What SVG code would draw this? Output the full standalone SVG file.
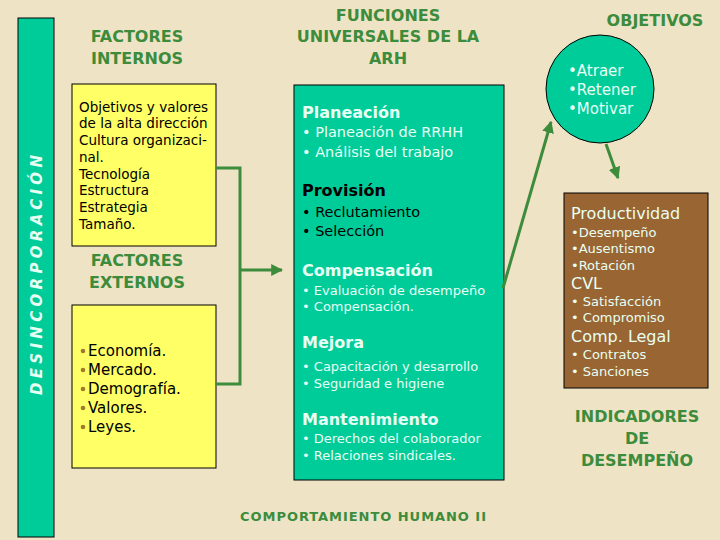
<svg xmlns="http://www.w3.org/2000/svg" width="720" height="540" viewBox="0 0 720 540">
<defs>
<marker id="ah" viewBox="0 0 10 10" refX="9" refY="5" markerWidth="4" markerHeight="4" orient="auto"><path d="M0,0L10,5L0,10z" fill="#3c8c3c"/></marker>
<style>
.h{font-family:"DejaVu Sans",sans-serif;font-weight:bold;font-size:16px;fill:#3c8c3c;text-anchor:middle}
.t{font-family:"DejaVu Sans",sans-serif;fill:#000}
.w{font-family:"DejaVu Sans",sans-serif;fill:#e8fff4}
.hb{font-weight:bold;font-size:16px}
.c{stroke:#3c8c3c;stroke-width:3;fill:none}
</style>
</defs>
<rect width="720" height="540" fill="#efe3c6"/>
<g id="bar"><rect x="18" y="18" width="36" height="519" fill="#00cc99" stroke="#000"/>
<text transform="translate(42,275) rotate(-90)" text-anchor="middle" font-family="DejaVu Sans,sans-serif" font-weight="bold" font-style="italic" font-size="15" fill="#e8fff4" textLength="240">DESINCORPORACIÓN</text></g>
<g id="titles">
<text class="h" x="137" y="42">FACTORES</text><text class="h" x="137" y="64">INTERNOS</text>
<text class="h" x="137" y="266">FACTORES</text><text class="h" x="137" y="288">EXTERNOS</text>
<text class="h" x="388" y="21">FUNCIONES</text><text class="h" x="388" y="42">UNIVERSALES DE LA</text><text class="h" x="388" y="64">ARH</text>
<text class="h" x="655" y="26">OBJETIVOS</text>
<text class="h" x="637" y="422">INDICADORES</text><text class="h" x="637" y="444">DE</text><text class="h" x="637" y="466">DESEMPEÑO</text>
<text x="240" y="521" font-family="DejaVu Sans,sans-serif" font-size="13" fill="#3c8c3c" font-weight="bold" textLength="246">COMPORTAMIENTO HUMANO II</text>
</g>
<g id="internos"><rect x="72" y="84" width="144" height="162" fill="#ffff66" stroke="#000"/>
<g class="t" font-size="13.5">
<text x="79" y="112">Objetivos y valores</text><text x="79" y="128">de la alta dirección</text><text x="79" y="145">Cultura organizaci-</text><text x="79" y="162">nal.</text><text x="79" y="179">Tecnología</text><text x="79" y="195">Estructura</text><text x="79" y="212">Estrategia</text><text x="79" y="229">Tamaño.</text></g></g>
<g id="externos"><rect x="72" y="305" width="144" height="163" fill="#ffff66" stroke="#000"/>
<g class="t" font-size="15"><text x="88" y="356">Economía.</text><text x="88" y="375">Mercado.</text><text x="88" y="394">Demografía.</text><text x="88" y="413">Valores.</text><text x="88" y="432">Leyes.</text></g>
<g fill="#a07830"><circle cx="83" cy="351" r="2.3"/><circle cx="83" cy="370" r="2.3"/><circle cx="83" cy="389" r="2.3"/><circle cx="83" cy="408" r="2.3"/><circle cx="83" cy="427" r="2.3"/></g></g>
<g id="funciones"><rect x="294" y="85" width="210" height="395" fill="#00cc99" stroke="#000"/>
<text class="w hb" x="302" y="118">Planeación</text>
<text class="w" font-size="14.5" x="302" y="137">• Planeación de RRHH</text><text class="w" font-size="14.5" x="302" y="157">• Análisis del trabajo</text>
<text class="t hb" x="302" y="196">Provisión</text>
<text class="t" font-size="14.5" x="302" y="217">• Reclutamiento</text><text class="t" font-size="14.5" x="302" y="236">• Selección</text>
<text class="w hb" x="302" y="276">Compensación</text>
<text class="w" font-size="13" x="302" y="295">• Evaluación de desempeño</text><text class="w" font-size="13" x="302" y="311">• Compensación.</text>
<text class="w hb" x="302" y="348">Mejora</text>
<text class="w" font-size="13" x="302" y="371">•  Capacitación y desarrollo</text><text class="w" font-size="13" x="302" y="388">• Seguridad e higiene</text>
<text class="w hb" x="302" y="425">Mantenimiento</text>
<text class="w" font-size="13" x="302" y="443">• Derechos del colaborador</text><text class="w" font-size="13" x="302" y="460">• Relaciones sindicales.</text></g>
<g id="objetivos"><circle cx="600" cy="89" r="54" fill="#00cc99" stroke="#000"/>
<g class="w" font-size="15"><text x="568" y="76">•Atraer</text><text x="568" y="95">•Retener</text><text x="568" y="114">•Motivar</text></g></g>
<g id="indicadores"><rect x="564" y="193" width="144" height="195" fill="#996633" stroke="#000"/>
<g class="w"><text x="571" y="219" font-size="16">Productividad</text>
<text font-size="13" x="571" y="237">•Desempeño</text><text font-size="13" x="571" y="253">•Ausentismo</text><text font-size="13" x="571" y="270">•Rotación</text>
<text x="571" y="289" font-size="16">CVL</text>
<text font-size="13" x="571" y="306">• Satisfacción</text><text font-size="13" x="571" y="322">• Compromiso</text>
<text x="571" y="342" font-size="16">Comp. Legal</text>
<text font-size="13" x="571" y="359">• Contratos</text><text font-size="13" x="571" y="376">• Sanciones</text></g></g>
<g id="connectors">
<path class="c" d="M216,168H240V384H216"/>
<path class="c" d="M240,270H282" marker-end="url(#ah)"/>
<path class="c" d="M503,288L551,122" marker-end="url(#ah)"/>
<path class="c" d="M606,144L618,178" marker-end="url(#ah)"/>
</g>
</svg>
